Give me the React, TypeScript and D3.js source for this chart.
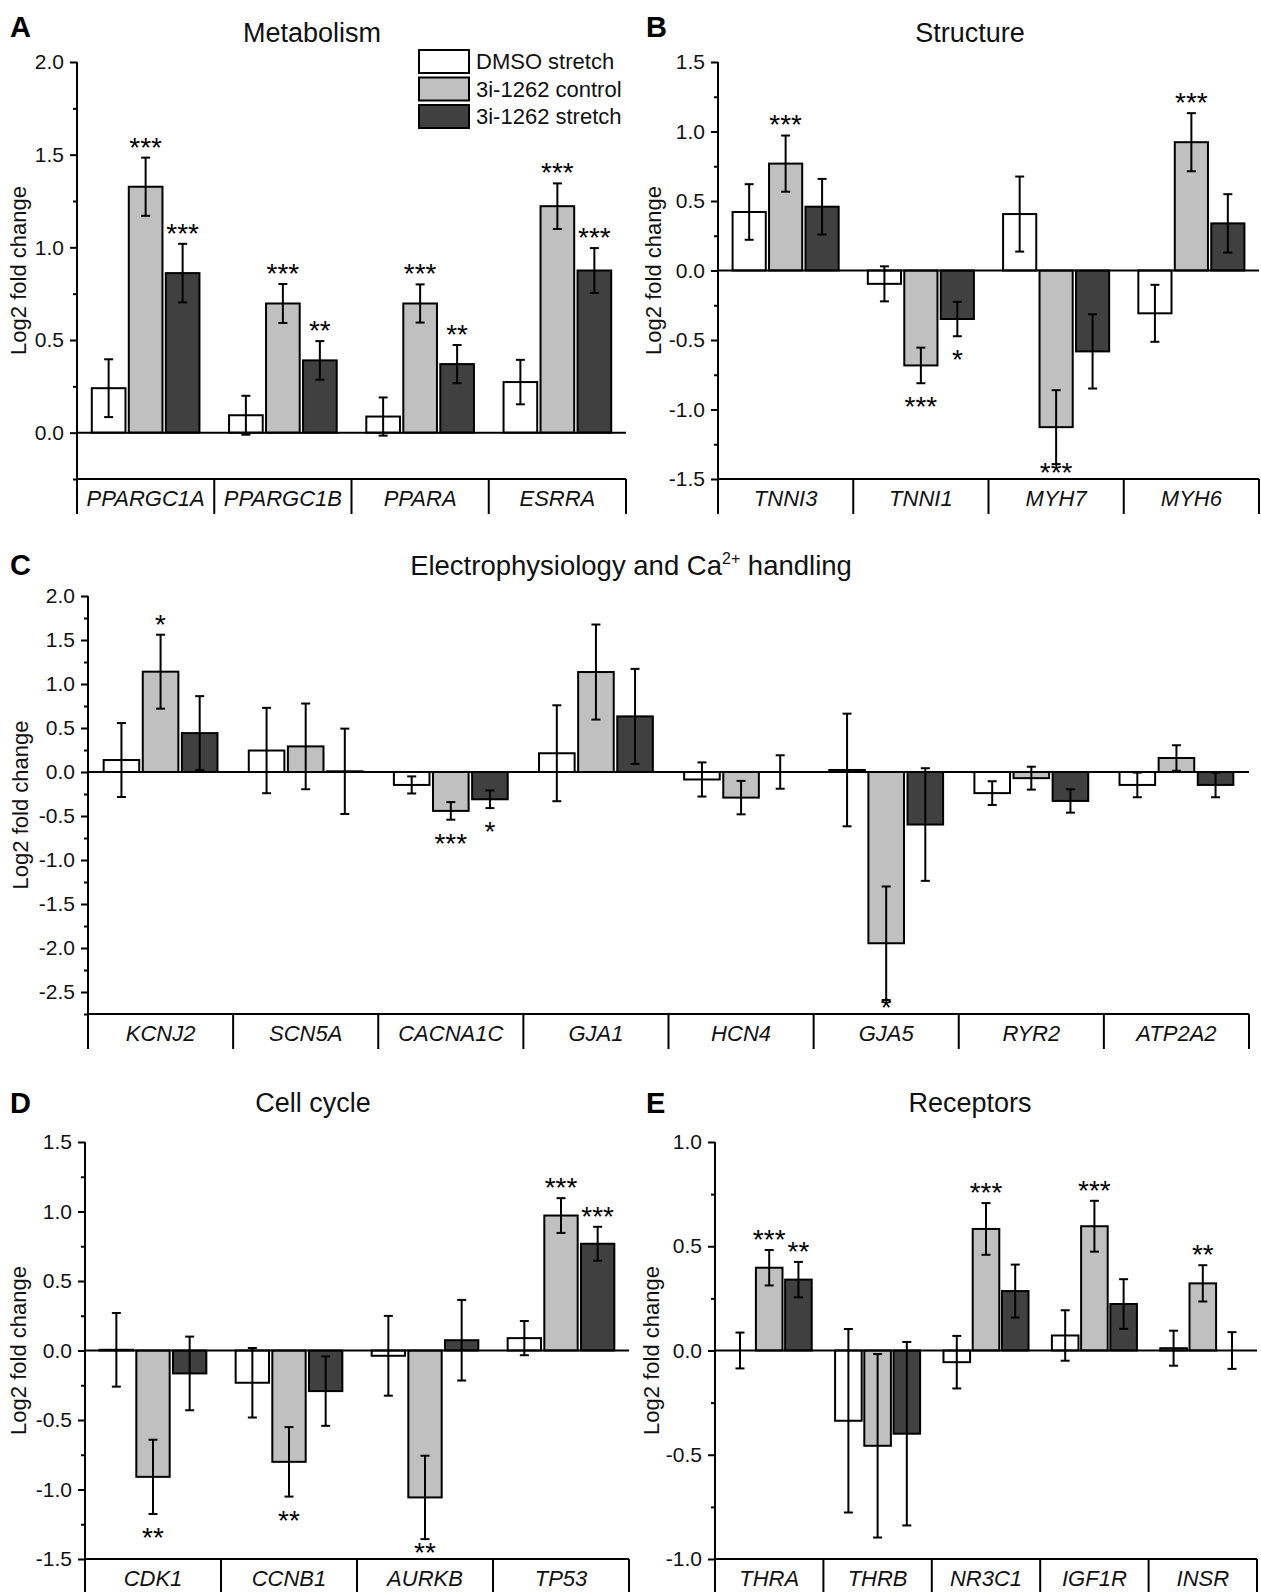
import { useEffect, useRef } from "react";
import * as d3 from "d3";

const FONT = "'Liberation Sans', Arial, Helvetica, sans-serif";
const SERIES = ["DMSO stretch", "3i-1262 control", "3i-1262 stretch"];
const FILLS = ["#ffffff", "#c0c0c0", "#404040"];

// A — Metabolism (rows = series, cols = genes)
const genesA = ["PPARGC1A", "PPARGC1B", "PPARA", "ESRRA"];
const meanA = [
  [0.24, 0.094, 0.087, 0.273],
  [1.327, 0.697, 0.697, 1.222],
  [0.861, 0.39, 0.37, 0.875],
];
const errA = [
  [0.156, 0.105, 0.103, 0.12],
  [0.157, 0.105, 0.103, 0.123],
  [0.158, 0.104, 0.103, 0.121],
];
const starsA = [
  ["", "", "", ""],
  ["***", "***", "***", "***"],
  ["***", "**", "**", "***"],
];

// B — Structure
const genesB = ["TNNI3", "TNNI1", "MYH7", "MYH6"];
const meanB = [
  [0.421, -0.096, 0.406, -0.308],
  [0.769, -0.683, -1.127, 0.923],
  [0.459, -0.349, -0.582, 0.339],
];
const errB = [
  [0.2, 0.126, 0.27, 0.205],
  [0.202, 0.128, 0.266, 0.209],
  [0.2, 0.124, 0.267, 0.21],
];
const starsB = [
  ["", "", "", ""],
  ["***", "***", "***", "***"],
  ["", "*", "", ""],
];

// C — Electrophysiology and Ca2+ handling
const genesC = ["KCNJ2", "SCN5A", "CACNA1C", "GJA1", "HCN4", "GJA5", "RYR2", "ATP2A2"];
const meanC = [
  [0.136, 0.244, -0.147, 0.213, -0.085, 0.023, -0.24, -0.147],
  [1.14, 0.291, -0.442, 1.136, -0.291, -1.946, -0.07, 0.159],
  [0.442, 0.008, -0.31, 0.632, 0, -0.597, -0.329, -0.147],
];
const errC = [
  [0.42, 0.485, 0.097, 0.545, 0.194, 0.64, 0.135, 0.14],
  [0.42, 0.487, 0.1, 0.54, 0.19, 0.645, 0.13, 0.145],
  [0.42, 0.485, 0.1, 0.54, 0.19, 0.64, 0.133, 0.14],
];
const starsC = [
  ["", "", "", "", "", "", "", ""],
  ["*", "", "***", "", "", "*", "", ""],
  ["", "", "*", "", "", "", "", ""],
];

// D — Cell cycle
const genesD = ["CDK1", "CCNB1", "AURKB", "TP53"];
const meanD = [
  [0.005, -0.232, -0.038, 0.089],
  [-0.909, -0.801, -1.057, 0.971],
  [-0.165, -0.292, 0.074, 0.768],
];
const errD = [
  [0.265, 0.25, 0.287, 0.123],
  [0.267, 0.25, 0.3, 0.125],
  [0.265, 0.25, 0.29, 0.122],
];
const starsD = [
  ["", "", "", ""],
  ["**", "**", "**", "***"],
  ["", "", "", "***"],
];

// E — Receptors
const genesE = ["THRA", "THRB", "NR3C1", "IGF1R", "INSR"];
const meanE = [
  [0, -0.337, -0.056, 0.072, 0.011],
  [0.397, -0.457, 0.583, 0.596, 0.322],
  [0.34, -0.399, 0.285, 0.223, 0],
];
const errE = [
  [0.086, 0.44, 0.126, 0.121, 0.084],
  [0.085, 0.44, 0.124, 0.122, 0.087],
  [0.085, 0.44, 0.127, 0.119, 0.088],
];
const starsE = [
  ["", "", "", "", ""],
  ["***", "", "***", "***", "**"],
  ["**", "", "", "", ""],
];

const panels = [
  {
    letter: "A", title: "Metabolism", genes: genesA, means: meanA, errs: errA, stars: starsA,
    domain: [-0.25, 2.0], x0: 77, x1: 626, yTop: 62, yBottom: 479,
    titleX: 312, titleY: 42, letterX: 10, letterY: 37, yLabelX: 18, legend: true,
  },
  {
    letter: "B", title: "Structure", genes: genesB, means: meanB, errs: errB, stars: starsB,
    domain: [-1.5, 1.5], x0: 718, x1: 1259, yTop: 62, yBottom: 479,
    titleX: 970, titleY: 42, letterX: 646, letterY: 37, yLabelX: 653,
  },
  {
    letter: "C", title: "Electrophysiology and Ca", genes: genesC, means: meanC, errs: errC, stars: starsC,
    domain: [-2.75, 2.0], x0: 88, x1: 1249, yTop: 596, yBottom: 1014,
    titleX: 631, titleY: 575, letterX: 10, letterY: 575, yLabelX: 20, superscript: true,
  },
  {
    letter: "D", title: "Cell cycle", genes: genesD, means: meanD, errs: errD, stars: starsD,
    domain: [-1.5, 1.5], x0: 85, x1: 629, yTop: 1142, yBottom: 1559,
    titleX: 313, titleY: 1112, letterX: 10, letterY: 1113, yLabelX: 18,
  },
  {
    letter: "E", title: "Receptors", genes: genesE, means: meanE, errs: errE, stars: starsE,
    domain: [-1.0, 1.0], x0: 715, x1: 1257, yTop: 1142, yBottom: 1559,
    titleX: 970, titleY: 1112, letterX: 646, letterY: 1113, yLabelX: 651,
  },
];

function drawPanel(svg, p) {
  const g = svg.append("g").attr("font-family", FONT);

  const x = d3.scaleBand().domain(p.genes).range([p.x0, p.x1]);
  const xs = d3
    .scaleBand()
    .domain([0, 1, 2])
    .range([0, x.bandwidth()])
    .paddingInner(0.09)
    .paddingOuter(0.4);
  const y = d3.scaleLinear().domain(p.domain).range([p.yBottom, p.yTop]);

  const rows = p.genes.flatMap((gene, gi) =>
    SERIES.map((s, si) => ({
      gene,
      si,
      v: p.means[si][gi],
      e: p.errs[si][gi],
      star: p.stars[si][gi],
    }))
  );
  const cx = (d) => x(d.gene) + xs(d.si) + xs.bandwidth() / 2;

  // bars
  g.selectAll("rect.bar")
    .data(rows)
    .join("rect")
    .attr("class", "bar")
    .attr("x", (d) => x(d.gene) + xs(d.si))
    .attr("y", (d) => y(Math.max(0, d.v)))
    .attr("width", xs.bandwidth())
    .attr("height", (d) => Math.abs(y(d.v) - y(0)))
    .attr("fill", (d) => FILLS[d.si])
    .attr("stroke", "#000")
    .attr("stroke-width", 2);

  // zero line
  g.append("line")
    .attr("x1", p.x0).attr("x2", p.x1)
    .attr("y1", y(0)).attr("y2", y(0))
    .attr("stroke", "#000").attr("stroke-width", 2);

  // error bars
  const eb = g.selectAll("g.err").data(rows).join("g").attr("class", "err")
    .attr("stroke", "#000").attr("stroke-width", 2);
  eb.append("line")
    .attr("x1", cx).attr("x2", cx)
    .attr("y1", (d) => y(d.v + d.e)).attr("y2", (d) => y(d.v - d.e));
  eb.append("line")
    .attr("x1", (d) => cx(d) - 4.5).attr("x2", (d) => cx(d) + 4.5)
    .attr("y1", (d) => y(d.v + d.e)).attr("y2", (d) => y(d.v + d.e));
  eb.append("line")
    .attr("x1", (d) => cx(d) - 4.5).attr("x2", (d) => cx(d) + 4.5)
    .attr("y1", (d) => y(d.v - d.e)).attr("y2", (d) => y(d.v - d.e));

  // significance stars (below the bar end for negative values, kept above the axis)
  const starSize = 28;
  g.selectAll("text.star")
    .data(rows.filter((d) => d.star))
    .join("text")
    .attr("class", "star")
    .attr("x", cx)
    .attr("y", (d) => {
      const c = d.v >= 0
        ? y(d.v + d.e) - 17
        : Math.min(y(d.v - d.e) + 17, p.yBottom - 13);
      return c + starSize * 0.57;
    })
    .attr("text-anchor", "middle")
    .attr("font-size", starSize)
    .attr("fill", "#000")
    .text((d) => d.star);

  // y axis ticks
  const [lo, hi] = p.domain;
  const majors = d3.range(Math.ceil(lo / 0.5 - 1e-9) * 0.5, hi + 1e-9, 0.5);
  const minors = d3
    .range(Math.ceil(lo / 0.25 - 1e-9) * 0.25, hi + 1e-9, 0.25)
    .filter((v) => !majors.some((m) => Math.abs(m - v) < 1e-9));

  g.append("g")
    .attr("transform", `translate(${p.x0},0)`)
    .call(d3.axisLeft(y).tickValues(minors).tickSize(4).tickFormat(() => ""))
    .call((ga) => ga.select(".domain").remove())
    .call((ga) => ga.selectAll(".tick line").attr("stroke", "#000").attr("stroke-width", 2));

  g.append("g")
    .attr("transform", `translate(${p.x0},0)`)
    .call(
      d3.axisLeft(y).tickValues(majors).tickSize(7).tickPadding(6)
        .tickFormat((d) => Number(d).toFixed(1))
    )
    .call((ga) => ga.select(".domain").remove())
    .call((ga) => ga.selectAll(".tick line").attr("stroke", "#000").attr("stroke-width", 2))
    .call((ga) =>
      ga.selectAll("text")
        .attr("font-family", FONT)
        .attr("font-size", 21)
        .attr("fill", "#111")
    );

  // axis frame: left axis, bottom axis, category dividers
  const boxH = 35;
  g.append("line")
    .attr("x1", p.x0).attr("x2", p.x0)
    .attr("y1", p.yTop).attr("y2", p.yBottom + boxH)
    .attr("stroke", "#000").attr("stroke-width", 2);
  g.append("line")
    .attr("x1", p.x0).attr("x2", p.x1)
    .attr("y1", p.yBottom).attr("y2", p.yBottom)
    .attr("stroke", "#000").attr("stroke-width", 2);
  g.selectAll("line.div")
    .data(p.genes.map((gn) => x(gn) + x.bandwidth()))
    .join("line")
    .attr("class", "div")
    .attr("x1", (d) => d).attr("x2", (d) => d)
    .attr("y1", p.yBottom).attr("y2", p.yBottom + boxH)
    .attr("stroke", "#000").attr("stroke-width", 2);

  g.selectAll("text.cat")
    .data(p.genes)
    .join("text")
    .attr("class", "cat")
    .attr("x", (d) => x(d) + x.bandwidth() / 2)
    .attr("y", p.yBottom + 27)
    .attr("text-anchor", "middle")
    .attr("font-size", 22)
    .attr("font-style", "italic")
    .attr("fill", "#111")
    .text((d) => d);

  // y title
  g.append("text")
    .attr("transform", `translate(${p.yLabelX},${(p.yTop + p.yBottom) / 2}) rotate(-90)`)
    .attr("text-anchor", "middle")
    .attr("dominant-baseline", "central")
    .attr("font-size", 22)
    .attr("fill", "#111")
    .text("Log2 fold change");

  // panel title
  const t = g.append("text")
    .attr("x", p.titleX)
    .attr("y", p.titleY)
    .attr("text-anchor", "middle")
    .attr("font-size", 27)
    .attr("fill", "#111");
  if (p.superscript) {
    t.attr("font-size", 27.5);
    t.append("tspan").text(p.title);
    t.append("tspan").attr("dy", -11).attr("font-size", 16).text("2+");
    t.append("tspan").attr("dy", 11).text(" handling");
  } else {
    t.text(p.title);
  }

  // panel letter
  g.append("text")
    .attr("x", p.letterX)
    .attr("y", p.letterY)
    .attr("font-size", 29)
    .attr("font-weight", 700)
    .attr("fill", "#000")
    .text(p.letter);

  if (p.legend) {
    const lg = g.append("g").attr("transform", "translate(419,50)");
    const item = lg.selectAll("g").data(SERIES).join("g")
      .attr("transform", (d, i) => `translate(0,${i * 27.5})`);
    item.append("rect")
      .attr("width", 50).attr("height", 23)
      .attr("fill", (d, i) => FILLS[i])
      .attr("stroke", "#000").attr("stroke-width", 2);
    item.append("text")
      .attr("x", 57).attr("y", 11.5)
      .attr("dominant-baseline", "central")
      .attr("font-size", 22)
      .attr("fill", "#111")
      .text((d) => d);
  }
}

export default function App() {
  const ref = useRef(null);

  useEffect(() => {
    document.body.style.margin = "0";
    const svg = d3.select(ref.current);
    svg.selectAll("*").remove();
    svg.append("rect").attr("width", 1261).attr("height", 1592).attr("fill", "#fff");
    panels.forEach((p) => drawPanel(svg, p));
  }, []);

  return <svg ref={ref} width={1261} height={1592} style={{ display: "block" }} />;
}
